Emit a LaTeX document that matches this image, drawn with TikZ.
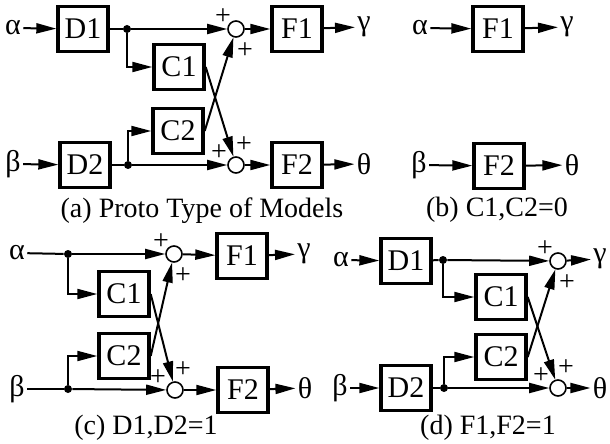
\documentclass[tikz,border=0pt]{standalone}
\usepackage{fontspec}
\setmainfont{Liberation Serif}
\usetikzlibrary{positioning}
\usetikzlibrary{arrows.meta,calc}
\tikzstyle{block}=[rectangle,draw,line width=1.7pt,minimum width=25pt,minimum height=22.5pt,inner sep=0pt,font=\fontsize{15}{16}\selectfont]
\tikzstyle{summer}=[circle,draw,line width=0.8pt,minimum size=8pt,inner sep=0pt]
\tikzstyle{junction}=[circle,fill=black,minimum size=4pt,inner sep=0pt]
\tikzstyle{port}=[inner sep=1pt,font=\fontsize{15}{16}\selectfont]
\tikzstyle{sign}=[inner sep=0pt,font=\fontsize{14}{14}\selectfont]
\tikzstyle{caption}=[inner sep=0pt,font=\fontsize{14}{15}\selectfont]
\tikzstyle{signal} = [draw,line width=1pt,-{Triangle[length=10pt,width=5pt]}]
\tikzstyle{wire} = [draw,line width=1pt]

\begin{document}
\begin{tikzpicture}[x=0.5pt,y=-0.5pt]
    \useasboundingbox (0,0) rectangle (610,444);

    % (a) full model
    \foreach \pos/\name/\label in {{(83,29)/aD1/D1}, {(85,165)/aD2/D2}, {(179,67)/aC1/C1}, {(178,131)/aC2/C2}, {(297,29)/aF1/F1}, {(297,165)/aF2/F2}}
        \node[block] (\name) at \pos {\label};
    \foreach \pos/\name/\label in {{(13,28)/ainA/α}, {(13,164)/ainB/β}, {(364,27)/aoutG/γ}, {(364,164)/aoutT/θ}}
        \node[port] (\name) at \pos {\label};
    \foreach \pos/\name in {{(127,29)/ajA}, {(128,165)/ajB}}
        \node[junction] (\name) at \pos {};
    \foreach \pos/\name in {{(236,29)/aS1}, {(236,165)/aS2}}
        \node[summer] (\name) at \pos {};
    \node[caption] (acap) at (202,211) {(a) Proto Type of Models};

    \foreach \source/\dest in {ainA/aD1, ainB/aD2, ajA/aS1, ajB/aS2, aS1/aF1, aS2/aF2, aF1/aoutG, aF2/aoutT, aC1.east/aS2, aC2.east/aS1}
        \path[signal] (\source) -- (\dest);
    \foreach \source/\dest in {ajA/aC1, ajB/aC2}
        \path[signal] (\source) |- (\dest);
    \foreach \source/\dest in {aD1/ajA, aD2/ajB}
        \path[wire] (\source) -- (\dest);

    % (b) no cross coupling
    \foreach \pos/\name/\label in {{(498,29)/bF1/F1}, {(499,166)/bF2/F2}}
        \node[block] (\name) at \pos {\label};
    \foreach \pos/\name/\label in {{(420,28)/binA/α}, {(419,165)/binB/β}, {(567,27)/boutG/γ}, {(572,165)/boutT/θ}}
        \node[port] (\name) at \pos {\label};
    \node[caption] (bcap) at (497,210) {(b) C1,C2=0};

    \foreach \source/\dest in {binA/bF1, binB/bF2, bF1/boutG, bF2/boutT}
        \path[signal] (\source) -- (\dest);

    % (c) no input dynamics
    \foreach \pos/\name/\label in {{(124,294)/cC1/C1}, {(124,356)/cC2/C2}, {(242,256)/cF1/F1}, {(243,390)/cF2/F2}}
        \node[block] (\name) at \pos {\label};
    \foreach \pos/\name/\label in {{(17,253)/cinA/α}, {(17,389)/cinB/β}, {(304,254)/coutG/γ}, {(305,388)/coutT/θ}}
        \node[port] (\name) at \pos {\label};
    \foreach \pos/\name in {{(68,254)/cjA}, {(68,389)/cjB}}
        \node[junction] (\name) at \pos {};
    \foreach \pos/\name in {{(174,254)/cS1}, {(175,390)/cS2}}
        \node[summer] (\name) at \pos {};
    \node[caption] (ccap) at (146,428) {(c) D1,D2=1};

    \foreach \source/\dest in {cjA/cS1, cjB/cS2, cS1/cF1, cS2/cF2, cF1/coutG, cF2/coutT, cC1.east/cS2, cC2.east/cS1}
        \path[signal] (\source) -- (\dest);
    \foreach \source/\dest in {cjA/cC1, cjB/cC2}
        \path[signal] (\source) |- (\dest);
    \foreach \source/\dest in {cinA/cjA, cinB/cjB}
        \path[wire] (\source) -- (\dest);

    % (d) no output dynamics
    \foreach \pos/\name/\label in {{(406,261)/dD1/D1}, {(406,388)/dD2/D2}, {(501,297)/dC1/C1}, {(501,357)/dC2/C2}}
        \node[block] (\name) at \pos {\label};
    \foreach \pos/\name/\label in {{(341,260)/dinA/α}, {(340,388)/dinB/β}, {(600,259)/doutG/γ}, {(600,388)/doutT/θ}}
        \node[port] (\name) at \pos {\label};
    \foreach \pos/\name in {{(443,260)/djA}, {(444,388)/djB}}
        \node[junction] (\name) at \pos {};
    \foreach \pos/\name in {{(558,261)/dS1}, {(558,388)/dS2}}
        \node[summer] (\name) at \pos {};
    \node[caption] (dcap) at (488,428) {(d) F1,F2=1};

    \foreach \source/\dest in {dinA/dD1, dinB/dD2, djA/dS1, djB/dS2, dS1/doutG, dS2/doutT, dC1.east/dS2, dC2.east/dS1}
        \path[signal] (\source) -- (\dest);
    \foreach \source/\dest in {djA/dC1, djB/dC2}
        \path[signal] (\source) |- (\dest);
    \foreach \source/\dest in {dD1/djA, dD2/djB}
        \path[wire] (\source) -- (\dest);

    % signs at the summing points
    \foreach \p in {a,c,d}{
        \node[sign] (\p p11) at ($(\p S1)+(-13,-12)$) {+};
        \node[sign] (\p p12) at ($(\p S1)+(9,22)$) {+};
        \node[sign] (\p p21) at ($(\p S2)+(-17,-12)$) {+};
        \node[sign] (\p p22) at ($(\p S2)+(8,-20)$) {+};
    }
\end{tikzpicture}
\end{document}
